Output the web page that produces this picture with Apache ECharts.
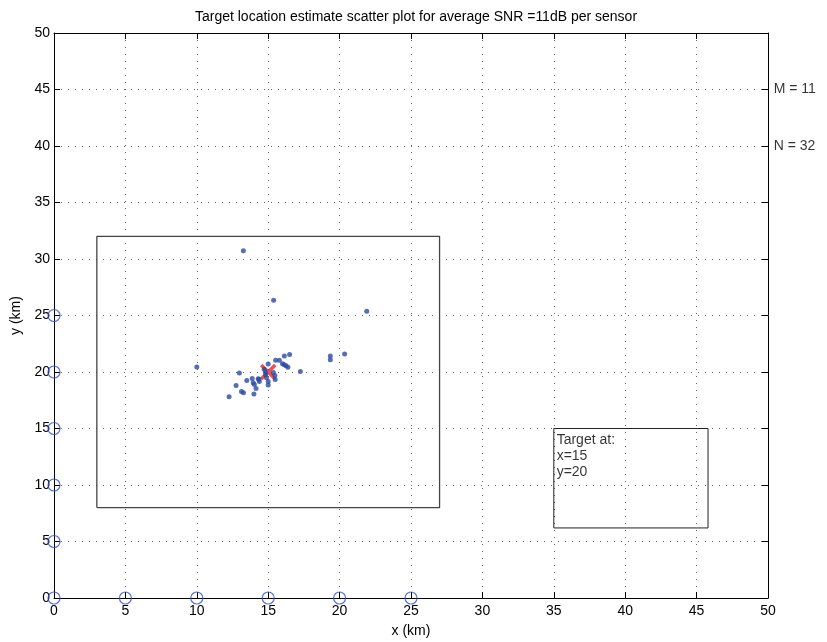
<!DOCTYPE html>
<html>
<head>
<meta charset="utf-8">
<script src="https://cdn.jsdelivr.net/npm/echarts@6/dist/echarts.min.js"></script>
<style>
  html, body { margin: 0; padding: 0; background: #fff; }
  #chart { width: 827px; height: 642px; }
</style>
</head>
<body>
<div id="chart"></div>
<script>
// axis ticks
var xTicks = [0, 5, 10, 15, 20, 25, 30, 35, 40, 45, 50];
var yTicks = [0, 5, 10, 15, 20, 25, 30, 35, 40, 45, 50];

// sensor positions (km)
var sensors = [
    [0, 0], [5, 0], [10, 0], [15, 0], [20, 0], [25, 0],
    [0, 5], [0, 10], [0, 15], [0, 20], [0, 25]
];

// estimated target locations
var estimates = [
    [10.0, 20.45], [12.98, 19.92], [12.75, 18.8], [12.26, 17.8],
    [13.13, 18.28], [13.27, 18.16], [13.5, 19.25], [13.88, 19.42],
    [13.95, 19.05], [14.03, 18.9], [14.15, 18.55], [14.0, 18.05],
    [14.35, 19.35], [14.38, 19.15], [14.3, 19.4], [14.72, 20.25],
    [14.8, 20.0], [14.82, 19.75], [14.88, 19.5], [15.0, 20.7],
    [15.0, 19.15], [15.0, 18.85], [15.36, 19.95], [15.47, 19.7],
    [15.49, 19.33], [15.52, 21.05], [15.78, 21.05], [16.0, 20.72],
    [16.12, 20.65], [16.25, 20.55], [16.38, 20.42], [16.13, 21.42],
    [16.5, 21.55], [17.25, 20.05], [19.35, 21.42], [19.35, 21.08],
    [20.35, 21.6], [13.26, 30.72], [15.38, 26.35], [21.9, 25.38]
];

// true target
var target = [[15, 20]];

// search region and note box outlines
var searchRect = [[3, 8], [27, 8], [27, 32], [3, 32], [3, 8]];
var noteRect = [[35, 6.2], [45.8, 6.2], [45.8, 15], [35, 15], [35, 6.2]];

// text notes
var noteText = [
    { value: [35.2, 14.0], name: 'Target at:' },
    { value: [35.2, 12.55], name: 'x=15' },
    { value: [35.2, 11.1], name: 'y=20' }
];
var sideText = [
    { value: [50.4, 45], name: 'M = 11' },
    { value: [50.4, 40], name: 'N = 32' }
];

var font = 'Liberation Sans, Arial, Helvetica, sans-serif';

function axisBase(extra) {
    var a = {
        type: 'value',
        min: 0,
        max: 50,
        interval: 5,
        axisLine: { show: true, onZero: false, lineStyle: { color: '#000', width: 1 } },
        axisTick: { show: true, inside: true, length: 6, lineStyle: { color: '#000' } },
        axisLabel: { show: true, color: '#000', fontSize: 14, fontFamily: font },
        splitLine: { show: false }
    };
    for (var k in extra) a[k] = extra[k];
    return a;
}

var chart = echarts.init(document.getElementById('chart'));

var option = {
    backgroundColor: '#fff',
    animation: false,
    title: {
        text: 'Target location estimate scatter plot for average SNR =11dB per sensor',
        left: 411,
        top: 5,
        textAlign: 'center',
        textStyle: { fontSize: 14, fontWeight: 'normal', color: '#000', fontFamily: font }
    },
    grid: { left: 54, right: 59, top: 33, bottom: 44, containLabel: false, outerBoundsMode: 'none' },
    xAxis: [
        axisBase({
            position: 'bottom',
            name: 'x (km)',
            nameLocation: 'middle',
            nameGap: 26,
            nameTextStyle: { fontSize: 14, color: '#000', fontFamily: font },
            axisLabel: { color: '#000', fontSize: 14, fontFamily: font, margin: 6,
                formatter: function(v) { return xTicks.indexOf(v) >= 0 ? String(v) : ''; } },
            splitLine: { show: true, showMinLine: false, showMaxLine: false,
                lineStyle: { color: '#666', type: [1, 6], width: 1 } }
        }),
        axisBase({ position: 'top', axisLabel: { show: false } })
    ],
    yAxis: [
        axisBase({
            position: 'left',
            name: 'y (km)',
            nameLocation: 'middle',
            nameGap: 30,
            nameTextStyle: { fontSize: 14, color: '#000', fontFamily: font },
            axisLabel: { color: '#000', fontSize: 14, fontFamily: font, margin: 4,
                formatter: function(v) { return yTicks.indexOf(v) >= 0 ? String(v) : ''; } },
            splitLine: { show: true, showMinLine: false, showMaxLine: false,
                lineStyle: { color: '#666', type: [1, 6], width: 1 } }
        }),
        axisBase({ position: 'right', axisLabel: { show: false } })
    ],
    series: [
        {
            name: 'search',
            type: 'line',
            data: searchRect,
            symbol: 'none',
            lineStyle: { color: '#444', width: 1.3 },
            silent: true,
            z: 1
        },
        {
            name: 'notebox',
            type: 'line',
            data: noteRect,
            symbol: 'none',
            lineStyle: { color: '#222', width: 1 },
            silent: true,
            z: 1
        },
        {
            name: 'sensors',
            type: 'scatter',
            data: sensors,
            symbol: 'circle',
            symbolSize: 12,
            clip: false,
            itemStyle: { color: 'rgba(0,0,0,0)', borderColor: '#2f4fd0', borderWidth: 1.2 },
            z: 5
        },
        {
            name: 'estimates',
            type: 'scatter',
            data: estimates,
            symbol: 'circle',
            symbolSize: 5,
            itemStyle: { color: '#2b4aa3' },
            z: 4
        },
        {
            name: 'target',
            type: 'scatter',
            data: target,
            symbol: 'path://M0,0L10,10M10,0L0,10',
            symbolSize: 14,
            itemStyle: { color: 'rgba(0,0,0,0)', borderColor: '#f02020', borderWidth: 3.5 },
            z: 3
        },
        {
            name: 'notes',
            type: 'scatter',
            data: noteText.concat(sideText),
            symbolSize: 0,
            clip: false,
            silent: true,
            label: {
                show: true,
                position: 'right',
                distance: 0,
                formatter: '{b}',
                color: '#000',
                fontSize: 14,
                fontFamily: font
            },
            z: 6
        }
    ]
};

chart.setOption(option);
</script>
</body>
</html>
